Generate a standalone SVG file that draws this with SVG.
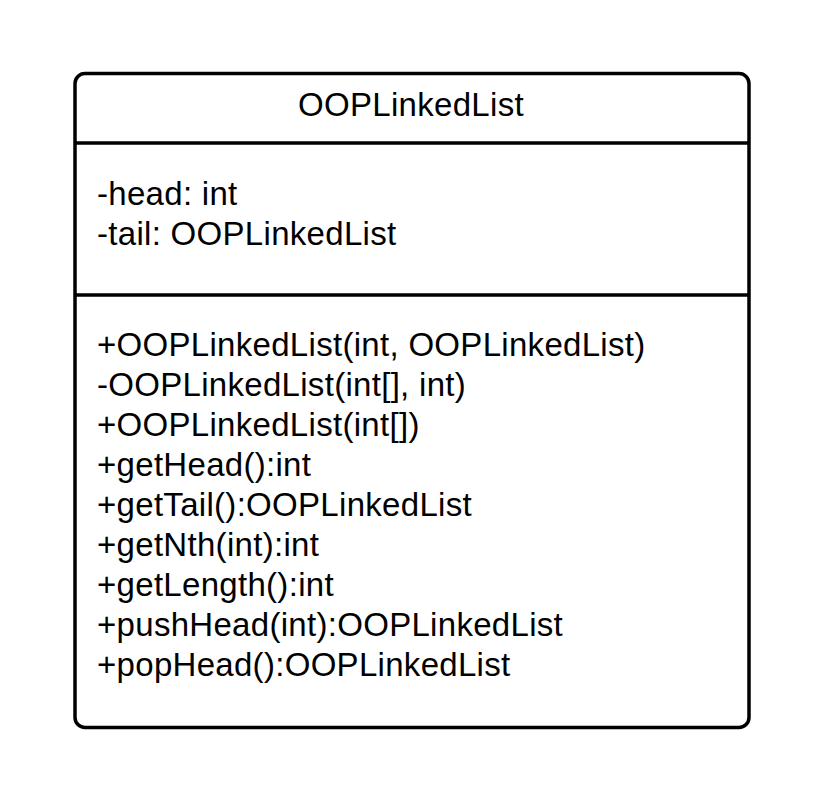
<svg xmlns="http://www.w3.org/2000/svg" width="827" height="806" viewBox="0 0 827 806">
<style>
.box{fill:#fff;stroke:#000;stroke-width:3.5}
.div{stroke:#000;stroke-width:3.5}
text{font-family:"Liberation Sans",Arial,sans-serif;font-size:33px;letter-spacing:0.3px;fill:#000}
</style>
<rect width="827" height="806" fill="#fff"/>
<g id="OOPLinkedList">
<rect class="box" x="75" y="73.5" width="674" height="654" rx="10" ry="10"/>
<line class="div" x1="75" y1="143" x2="749" y2="143"/>
<line class="div" x1="75" y1="295" x2="749" y2="295"/>
<text x="411" y="116" text-anchor="middle">OOPLinkedList</text>
<text x="97" y="205">-head: int</text>
<text x="97" y="245">-tail: OOPLinkedList</text>
<text x="97" y="356">+OOPLinkedList(int, OOPLinkedList)</text>
<text x="97" y="396">-OOPLinkedList(int[], int)</text>
<text x="97" y="436">+OOPLinkedList(int[])</text>
<text x="97" y="476">+getHead():int</text>
<text x="97" y="516">+getTail():OOPLinkedList</text>
<text x="97" y="556">+getNth(int):int</text>
<text x="97" y="596">+getLength():int</text>
<text x="97" y="636">+pushHead(int):OOPLinkedList</text>
<text x="97" y="676">+popHead():OOPLinkedList</text>
</g>
<g id="connectors"/>
</svg>
